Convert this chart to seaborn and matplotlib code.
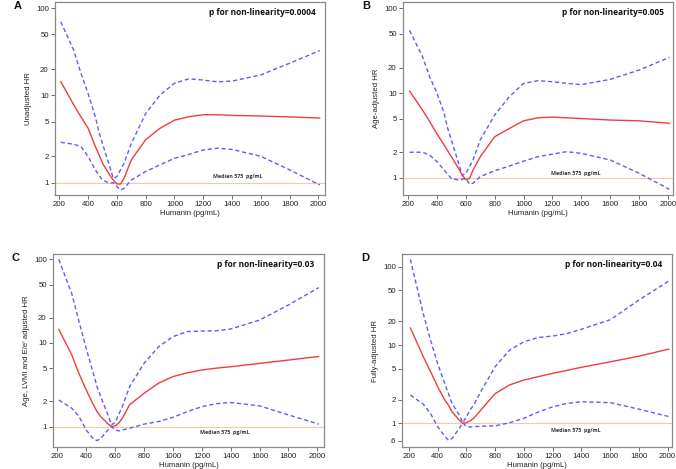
import numpy as np
import pandas as pd
import matplotlib
matplotlib.use("Agg")
import matplotlib.pyplot as plt
import seaborn as sns

# humanin grid (pg/mL)
humanin = [210, 300, 350, 400, 450, 475, 500, 550, 575, 600, 625, 650, 700,
           800, 900, 1000, 1100, 1200, 1300, 1400, 1600, 1800, 2010]

# A - unadjusted
a_hr = [14.4, 7.8, 5.7, 4.2, 2.6, 2.1, 1.67, 1.22, 1.07, 0.965, 0.96, 1.12, 1.82,
        3.1, 4.2, 5.2, 5.7, 6.0, 6.0, 5.9, 5.8, 5.66, 5.5]
a_up = [70, 33, 18, 10.5, 5.7, 3.85, 2.8, 1.53, 1.12, 1.17, 1.4, 1.67, 2.8,
        6.2, 10.1, 13.8, 15.5, 15.0, 14.3, 14.6, 17.2, 23.4, 32.7]
a_lo = [2.9, 2.75, 2.6, 1.99, 1.4, 1.22, 1.07, 0.98, 1.0, 0.9, 0.82, 0.86, 1.07,
        1.34, 1.6, 1.9, 2.1, 2.37, 2.48, 2.4, 2.0, 1.4, 0.94]

# B - age adjusted
b_hr = [10.6, 6.3, 4.6, 3.3, 2.43, 2.07, 1.77, 1.29, 1.07, 0.955, 0.98, 1.23, 1.77,
        3.05, 3.8, 4.7, 5.1, 5.2, 5.1, 5.0, 4.8, 4.7, 4.4]
b_up = [55, 27, 15.5, 10, 5.75, 3.8, 2.8, 1.48, 1.07, 1.12, 1.35, 1.62, 2.8,
        5.5, 9.0, 13, 14, 13.6, 13.0, 12.6, 14.5, 18.7, 26.4]
b_lo = [2.0, 2.0, 1.85, 1.55, 1.23, 1.1, 0.98, 0.94, 0.96, 0.98, 0.84, 0.86, 1.03,
        1.21, 1.37, 1.57, 1.77, 1.9, 2.03, 1.94, 1.62, 1.13, 0.73]

# C - age, LVMI and E/e' adjusted
c_hr = [14.6, 7.2, 4.3, 2.74, 1.82, 1.51, 1.32, 1.08, 1.0, 1.02, 1.1, 1.26, 1.82,
        2.5, 3.3, 3.96, 4.4, 4.75, 5.0, 5.2, 5.7, 6.25, 6.9]
c_up = [100, 39, 18, 8.6, 4.3, 3.0, 2.3, 1.38, 1.05, 1.12, 1.4, 1.73, 3.0,
        5.7, 9.0, 11.9, 13.7, 13.9, 14.0, 14.7, 18.8, 28.5, 46]
c_lo = [2.08, 1.66, 1.32, 0.91, 0.71, 0.68, 0.72, 0.91, 1.0, 0.91, 0.89, 0.91, 0.955,
        1.07, 1.15, 1.29, 1.51, 1.73, 1.88, 1.94, 1.77, 1.38, 1.07]

# D - fully adjusted
d_hr = [16.6, 7.1, 4.6, 2.94, 1.99, 1.71, 1.41, 1.1, 1.0, 1.02, 1.08, 1.16, 1.48,
        2.4, 3.1, 3.57, 3.95, 4.35, 4.75, 5.2, 6.1, 7.2, 8.9]
d_up = [124, 25, 11.6, 5.8, 3.2, 2.4, 1.8, 1.28, 1.02, 1.22, 1.48, 1.71, 2.54,
        5.3, 8.6, 11, 12.5, 13, 14, 15.9, 21, 37.5, 66]
d_lo = [2.3, 1.76, 1.34, 0.91, 0.68, 0.61, 0.64, 0.86, 1.02, 0.91, 0.9, 0.91, 0.92,
        0.93, 1.02, 1.16, 1.4, 1.63, 1.8, 1.89, 1.84, 1.52, 1.22]

letters = ["A", "B", "C", "D"]
ylabels = ["Unadjusted HR", "Age-adjusted HR", "Age, LVMI and E/e' adjusted HR", "Fully-adjusted HR"]
p_texts = ["p for non-linearity=0.0004", "p for non-linearity=0.005",
           "p for non-linearity=0.03", "p for non-linearity=0.04"]
yticks = [1, 2, 5, 10, 20, 50, 100]

sns.set_style("white")
plt.rcParams["font.family"] = ["Liberation Sans", "DejaVu Sans"]

fig = plt.figure(figsize=(6.76, 4.69), dpi=100)

# axes boxes in pixels: left, top, right, bottom
boxes = [(55, 2, 325, 195), (403, 2, 673, 195), (53, 254, 324, 447), (402, 254, 672, 447)]
xlims = [(170, 2046), (165, 2035), (170, 2046), (152, 2030)]
ylims = [(0.72, 118), (0.625, 119), (0.57, 116), (0.50, 145)]
med_pos = [(1270, 1.16), (1192, 1.12), (1189, 0.85), (1185, 0.82)]
panels = [(a_hr, a_up, a_lo), (b_hr, b_up, b_lo), (c_hr, c_up, c_lo), (d_hr, d_up, d_lo)]

for i, (hr, up, lo) in enumerate(panels):
    l, t, r, b = boxes[i]
    ax = fig.add_axes([l / 676, 1 - b / 469, (r - l) / 676, (b - t) / 469])
    df = pd.DataFrame({"humanin": humanin, "hr": hr, "up": up, "lo": lo})

    ax.axhline(1, color="#f9c99e", lw=0.8, zorder=1)
    sns.lineplot(data=df, x="humanin", y="up", ax=ax, color="#5b5bff", lw=1.0,
                 dashes=False, linestyle=(0, (3, 2)))
    sns.lineplot(data=df, x="humanin", y="lo", ax=ax, color="#5b5bff", lw=1.0,
                 linestyle=(0, (3, 2)))
    sns.lineplot(data=df, x="humanin", y="hr", ax=ax, color="#f23c3c", lw=1.0)

    ax.set_yscale("log")
    ax.set_xlim(*xlims[i])
    ax.set_ylim(*ylims[i])
    yt = yticks if i < 3 else [0.6] + yticks
    ax.set_yticks(yt)
    ax.set_yticklabels([".6" if v == 0.6 else str(v) for v in yt])
    ax.yaxis.set_minor_locator(matplotlib.ticker.NullLocator())
    ax.set_xticks(range(200, 2001, 200))

    ax.tick_params(axis="both", which="major", direction="out", length=3, width=0.6,
                   color="#555555", labelsize=5.6, pad=1.5, labelcolor="#222222",
                   left=True, bottom=True)
    for s in ax.spines.values():
        s.set_color("#8a8a8a")
        s.set_linewidth(0.9)

    ax.set_xlabel("Humanin (pg/mL)", fontsize=5.6, labelpad=1, color="#222222")
    ax.set_ylabel(ylabels[i], fontsize=5.6, labelpad=3, color="#222222")

    ax.text(0.965, 0.945, p_texts[i], transform=ax.transAxes, ha="right", va="center",
            fontsize=6.0, fontweight="bold", family=["Open Sans", "DejaVu Sans"], color="#111111")
    mx, my = med_pos[i]
    ax.text(mx, my, "Median 575  pg/mL", ha="left", va="center", fontsize=3.8,
            fontweight="bold", family=["Open Sans", "DejaVu Sans"], color="#333333")

    fig.text((l - 41) / 676, 1 - (t + 4) / 469, letters[i], fontsize=8, fontweight="bold",
             ha="left", va="center", color="#111111")

fig.savefig("out.png", dpi=100)
